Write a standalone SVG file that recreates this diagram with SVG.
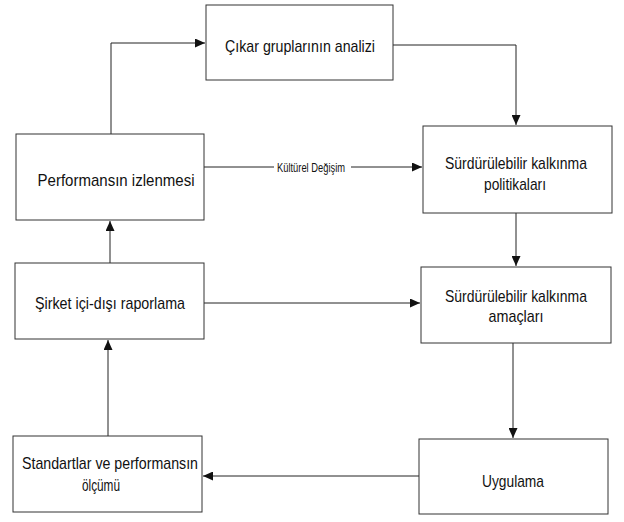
<svg xmlns="http://www.w3.org/2000/svg" width="624" height="522" viewBox="0 0 624 522">
<style>
.box{fill:#fff;stroke:#333;stroke-width:1}
.t{font-family:"Liberation Sans",Arial,sans-serif;font-size:17px;fill:#111;text-anchor:middle}
.lbl{font-family:"Liberation Sans",Arial,sans-serif;font-size:12px;fill:#111;text-anchor:middle}
.c{fill:none;stroke:#222;stroke-width:1}
</style>
<defs>
<marker id="ah" markerUnits="userSpaceOnUse" markerWidth="10" markerHeight="9" refX="10" refY="4.5" orient="auto">
<path d="M0,0 L10,4.5 L0,9 z" fill="#111"/>
</marker>
</defs>
<rect width="624" height="522" fill="#fff"/>
<g id="connectors">
<path class="c" d="M111,134 V43 H205" marker-end="url(#ah)"/>
<path class="c" d="M393,45 H516 V125" marker-end="url(#ah)"/>
<path class="c" d="M204,167 H274 M351,167 H422" marker-end="url(#ah)"/>
<text class="lbl" x="311" y="171.5" textLength="68" lengthAdjust="spacingAndGlyphs">Kültürel Değişim</text>
<path class="c" d="M516,213 V266" marker-end="url(#ah)"/>
<path class="c" d="M204,303 H420" marker-end="url(#ah)"/>
<path class="c" d="M513,343 V438" marker-end="url(#ah)"/>
<path class="c" d="M419,476 H203" marker-end="url(#ah)"/>
<path class="c" d="M108,436 V340" marker-end="url(#ah)"/>
<path class="c" d="M110,263 V221" marker-end="url(#ah)"/>
</g>
<g id="cikar">
<rect class="box" x="206" y="5" width="187" height="75"/>
<text class="t" x="300" y="52" textLength="150" lengthAdjust="spacingAndGlyphs">Çıkar gruplarının analizi</text>
</g>
<g id="performans">
<rect class="box" x="16" y="134" width="188" height="86"/>
<text class="t" x="116" y="185.5" textLength="157" lengthAdjust="spacingAndGlyphs">Performansın izlenmesi</text>
</g>
<g id="politikalar">
<rect class="box" x="423" y="126" width="189" height="87"/>
<text class="t" x="516" y="168.5" textLength="142" lengthAdjust="spacingAndGlyphs">Sürdürülebilir kalkınma</text>
<text class="t" x="515" y="190" textLength="62" lengthAdjust="spacingAndGlyphs">politikaları</text>
</g>
<g id="raporlama">
<rect class="box" x="15" y="263" width="189" height="76"/>
<text class="t" x="110" y="309" textLength="150" lengthAdjust="spacingAndGlyphs">Şirket içi-dışı raporlama</text>
</g>
<g id="amaclar">
<rect class="box" x="421" y="267" width="190" height="76"/>
<text class="t" x="516" y="301.5" textLength="142" lengthAdjust="spacingAndGlyphs">Sürdürülebilir kalkınma</text>
<text class="t" x="516" y="322" textLength="55" lengthAdjust="spacingAndGlyphs">amaçları</text>
</g>
<g id="standartlar">
<rect class="box" x="13" y="436" width="189" height="76"/>
<text class="t" x="110" y="469" textLength="176" lengthAdjust="spacingAndGlyphs">Standartlar ve performansın</text>
<text class="t" x="101" y="490.5" textLength="38" lengthAdjust="spacingAndGlyphs">ölçümü</text>
</g>
<g id="uygulama">
<rect class="box" x="419" y="439" width="189" height="75"/>
<text class="t" x="513" y="486.5" textLength="62" lengthAdjust="spacingAndGlyphs">Uygulama</text>
</g>
</svg>
